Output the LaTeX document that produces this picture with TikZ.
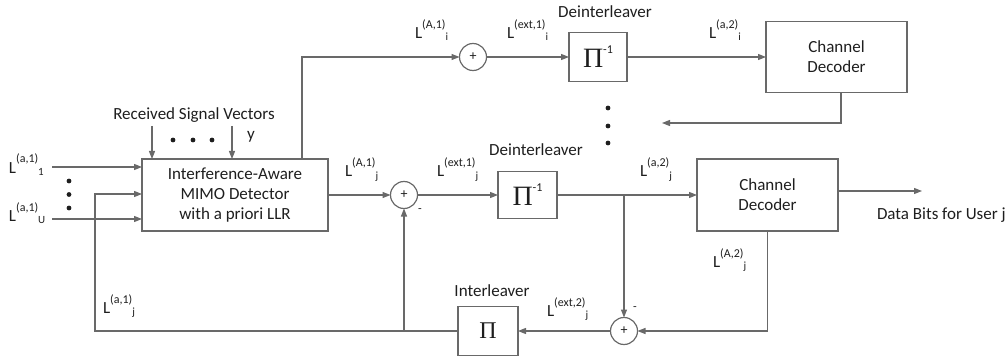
\documentclass[tikz,border=0pt]{standalone}
\usepackage{fontspec}
\setmainfont{Carlito}
\newfontfamily\pifont{Liberation Serif}
\usetikzlibrary{arrows.meta}
\definecolor{linec}{RGB}{105,105,105}
\definecolor{txtc}{RGB}{30,30,30}
\newcommand{\Lsym}[2]{L\raisebox{10pt}{\fontsize{12}{12}\selectfont(#1)}\raisebox{-2pt}{\fontsize{11}{11}\selectfont#2}}
\newcommand{\Pinv}{{\pifont\fontsize{28}{28}\selectfont Π}\raisebox{14pt}{\fontsize{12}{12}\selectfont -1}}
\newcommand{\Pione}{{\pifont\fontsize{24}{24}\selectfont Π}}
\begin{document}
\begin{tikzpicture}[x=1pt,y=-1pt,inner sep=0pt,outer sep=0pt,line width=1.2pt,draw=linec,text=txtc,
>={Triangle[length=8pt,width=6pt]},font=\fontsize{17}{20}\selectfont,
sysblock/.style={draw,rectangle,align=center},
sumnode/.style={draw,circle,minimum size=27pt,font=\fontsize{14}{14}\selectfont}]
\useasboundingbox (0,0) rectangle (1008,358);
% blocks
\draw (235,195) node[sysblock,minimum width=186pt,minimum height=72pt] (det) {Interference-Aware\\MIMO Detector\\with a priori LLR};
\draw (473,57) node[sumnode] (sumi) {+};
\draw (598,57) node[sysblock,minimum width=58pt,minimum height=49pt] (deinti) {\Pinv};
\draw (836.5,57) node[sysblock,minimum width=141pt,minimum height=71pt] (deci) {Channel\\Decoder};
\draw (404,195) node[sumnode] (sumj) {+};
\draw (527.5,195) node[sysblock,minimum width=59pt,minimum height=47pt] (deintj) {\Pinv};
\draw (767.5,195) node[sysblock,minimum width=141pt,minimum height=72pt] (decj) {Channel\\Decoder};
\draw (624,331) node[sumnode] (sumext) {+};
\draw (488,331) node[sysblock,minimum width=60pt,minimum height=49pt] (inter) {\Pione};
% free ends
\coordinate (in1) at (52,167);
\coordinate (inU) at (52,219);
\coordinate (fb) at (95,194);
\coordinate (rs1) at (152,126);
\coordinate (rs2) at (232,126);
\coordinate (ret) at (662,123);
\coordinate (out) at (922,191);
% connectors
\draw[->] (in1) -- (in1 -| det.west);
\draw[->] (inU) -- (inU -| det.west);
\draw[->] (rs1) -- (rs1 |- det.north);
\draw[->] (rs2) -- (rs2 |- det.north);
\draw[->] ([xshift=-26pt]det.north east) |- (sumi.west);
\draw[->] (sumi.east) -- (deinti.west);
\draw[->] (deinti.east) -- (deci.west);
\draw[->] ([xshift=4.5pt]deci.south) |- (ret);
\draw[->] (det.east) -- (sumj.west);
\draw[->] (sumj.east) -- (deintj.west);
\draw[->] (deintj.east) -- (decj.west);
\draw[->] (sumext |- deintj.east) -- (sumext.north);
\draw[->] (decj.east |- out) -- (out);
\draw[->] (decj.south) |- (sumext.east);
\draw[->] (sumext.west) -- (inter.east);
\draw[->] (inter.west) -| (fb) -- (fb -| det.west);
\draw[->] (inter.west -| sumj) -- (sumj.south);
% dots
\foreach \y in {181,194.5,208} \fill[txtc] (69,\y) circle (2.4pt);
\foreach \x in {173,193,212} \fill[txtc] (\x,140) circle (2.4pt);
\foreach \y in {108,126,143} \fill[txtc] (608,\y) circle (2.4pt);
% labels
\node[anchor=base west] (lin1) at (9,173) {\Lsym{a,1}{1}};
\node[anchor=base west] (linU) at (9,221) {\Lsym{a,1}{U}};
\node[anchor=base west] (lfb) at (103,313) {\Lsym{a,1}{j}};
\node[anchor=base] (lrsv) at (194,120) {Received Signal Vectors};
\node[anchor=base] (ly) at (251,140) {y};
\node[anchor=base west] (lAi) at (415,39) {\Lsym{A,1}{i}};
\node[anchor=base west] (lexti) at (507,39) {\Lsym{ext,1}{i}};
\node[anchor=base] (ldeinti) at (605,18) {Deinterleaver};
\node[anchor=base west] (lai) at (709,39) {\Lsym{a,2}{i}};
\node[anchor=base west] (lAj) at (345,177) {\Lsym{A,1}{j}};
\node[anchor=base west] (lextj) at (437,177) {\Lsym{ext,1}{j}};
\node[anchor=base] (ldeintj) at (536,156) {Deinterleaver};
\node[anchor=base west] (laj) at (640,177) {\Lsym{a,2}{j}};
\node[anchor=base west] (lout) at (877,219) {Data Bits for User j};
\node[anchor=base west] (lA2j) at (713,267) {\Lsym{A,2}{j}};
\node[anchor=base west] (lext2j) at (547,316) {\Lsym{ext,2}{j}};
\node[anchor=base] (linter) at (492,296) {Interleaver};
\node[font=\fontsize{12}{12}\selectfont] (minj) at (420,211) {-};
\node[font=\fontsize{12}{12}\selectfont] (minext) at (635,309) {-};
\end{tikzpicture}
\end{document}
